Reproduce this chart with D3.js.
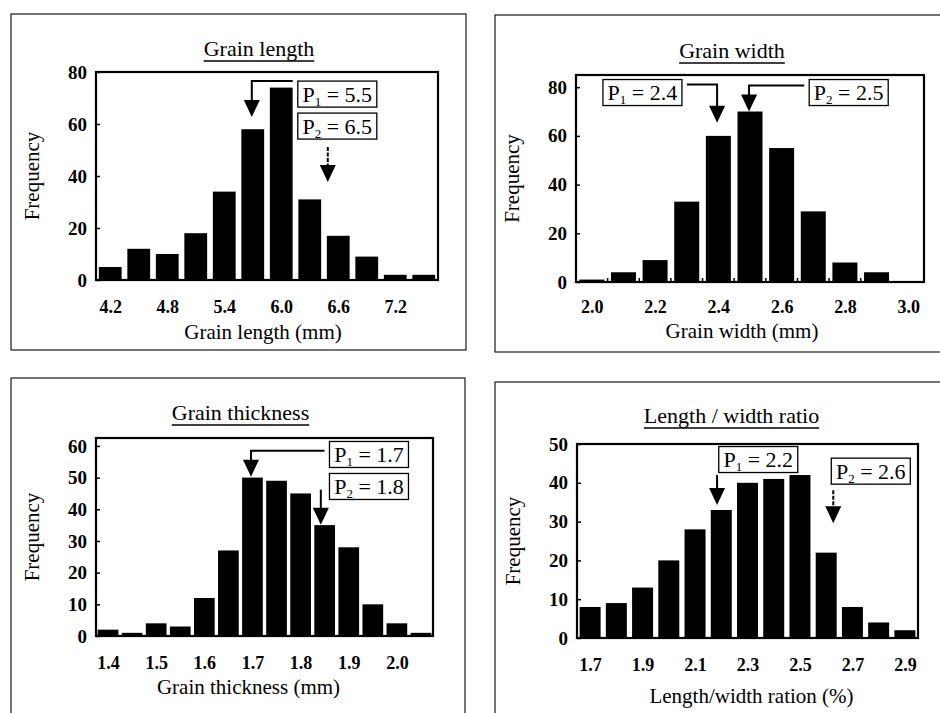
<!DOCTYPE html>
<html>
<head>
<meta charset="utf-8">
<script src="https://cdn.jsdelivr.net/npm/d3@7"></script>
<style>
  html, body { margin: 0; padding: 0; background: #fff; }
  svg { display: block; }
  svg text { font-family: "Liberation Serif", "Times New Roman", serif; }
</style>
</head>
<body>
<svg id="chart" width="940" height="713"></svg>
<script>
// ---------------- DATA ----------------
const lengthBins   = [4.2, 4.5, 4.8, 5.1, 5.4, 5.7, 6.0, 6.3, 6.6, 6.9, 7.2, 7.5];
const lengthFreq   = [5, 12, 10, 18, 34, 58, 74, 31, 17, 9, 2, 2];
const lengthXTicks = [4.2, 4.8, 5.4, 6.0, 6.6, 7.2];
const lengthYTicks = [0, 20, 40, 60, 80];
const lengthNotes  = [
  { sub: "1", val: "5.5", bx: 6.59, by: 71.5, kind: "elbow", ax: 5.69, ay: 76.5, tip: 62.7, dashed: false },
  { sub: "2", val: "6.5", bx: 6.59, by: 59.2, kind: "drop",  ax: 6.49, ay: 51.2, tip: 37.7, dashed: true }
];

const widthBins   = [2.0, 2.1, 2.2, 2.3, 2.4, 2.5, 2.6, 2.7, 2.8, 2.9];
const widthFreq   = [1, 4, 9, 33, 60, 70, 55, 29, 8, 4];
const widthXTicks = [2.0, 2.2, 2.4, 2.6, 2.8, 3.0];
const widthYTicks = [0, 20, 40, 60, 80];
const widthNotes  = [
  { sub: "1", val: "2.4", bx: 2.160, by: 77.8, kind: "elbow", ax: 2.396, ay: 81.1, tip: 65.4, dashed: false },
  { sub: "2", val: "2.5", bx: 2.812, by: 77.8, kind: "elbow", ax: 2.497, ay: 80.7, tip: 70.0, dashed: false }
];

const thickBins   = [1.40, 1.45, 1.50, 1.55, 1.60, 1.65, 1.70, 1.75, 1.80, 1.85, 1.90, 1.95, 2.00, 2.05];
const thickFreq   = [2, 1, 4, 3, 12, 27, 50, 49, 45, 35, 28, 10, 4, 1];
const thickXTicks = [1.4, 1.5, 1.6, 1.7, 1.8, 1.9, 2.0];
const thickYTicks = [0, 10, 20, 30, 40, 50, 60];
const thickNotes  = [
  { sub: "1", val: "1.7", bx: 1.942, by: 57.3, kind: "elbow", ax: 1.697, ay: 58.5, tip: 50.3, dashed: false },
  { sub: "2", val: "1.8", bx: 1.942, by: 47.2, kind: "drop",  ax: 1.842, ay: 46.2, tip: 35.1, dashed: false }
];

const ratioBins   = [1.7, 1.8, 1.9, 2.0, 2.1, 2.2, 2.3, 2.4, 2.5, 2.6, 2.7, 2.8, 2.9];
const ratioFreq   = [8, 9, 13, 20, 28, 33, 40, 41, 42, 22, 8, 4, 2];
const ratioXTicks = [1.7, 1.9, 2.1, 2.3, 2.5, 2.7, 2.9];
const ratioYTicks = [0, 10, 20, 30, 40, 50];
const ratioNotes  = [
  { sub: "1", val: "2.2", bx: 2.341, by: 46.0, kind: "drop", ax: 2.184, ay: 42.0, tip: 34.3, dashed: false },
  { sub: "2", val: "2.6", bx: 2.770, by: 43.0, kind: "drop", ax: 2.627, ay: 38.1, tip: 29.6, dashed: true }
];

const panelTitles = ["Grain length", "Grain width", "Grain thickness", "Length / width ratio"];
const axisTitles  = ["Grain length (mm)", "Grain width (mm)", "Grain thickness (mm)", "Length/width ration (%)"];
const yTitle = "Frequency";

// ---------------- LAYOUT ----------------
const panels = [
  { bins: lengthBins, freq: lengthFreq, xt: lengthXTicks, yt: lengthYTicks, notes: lengthNotes,
    title: panelTitles[0], xTitle: axisTitles[0], yMax: 80, binW: 0.3, barFrac: 0.8,
    outer: [11, 14, 466, 350], plot: [96, 72, 438, 280], titleDx: -8, titleDy: -16, xTitleDx: -4, xTitleDy: 59, xLabDy: 33, xMinorTicks: false },
  { bins: widthBins, freq: widthFreq, xt: widthXTicks, yt: widthYTicks, notes: widthNotes,
    title: panelTitles[1], xTitle: axisTitles[1], yMax: 85, binW: 0.1, barFrac: 0.79,
    outer: [495, 15, 948, 352], plot: [576, 75, 924, 282], titleDx: -18, titleDy: -17, xTitleDx: -8, xTitleDy: 56, xLabDy: 31, xMinorTicks: true },
  { bins: thickBins, freq: thickFreq, xt: thickXTicks, yt: thickYTicks, notes: thickNotes,
    title: panelTitles[2], xTitle: axisTitles[2], yMax: 62.5, binW: 0.05, barFrac: 0.86,
    outer: [11, 378, 465, 720], plot: [96, 438, 433, 636], titleDx: -24, titleDy: -18, xTitleDx: -16, xTitleDy: 58, xLabDy: 33, xMinorTicks: false },
  { bins: ratioBins, freq: ratioFreq, xt: ratioXTicks, yt: ratioYTicks, notes: ratioNotes,
    title: panelTitles[3], xTitle: axisTitles[3], yMax: 50, binW: 0.1, barFrac: 0.8,
    outer: [495, 382, 948, 720], plot: [577, 444, 918, 638], titleDx: -16, titleDy: -21, xTitleDx: 4, xTitleDy: 65, xLabDy: 33, xMinorTicks: false }
];

const svg = d3.select("#chart");
const fmt = d3.format(".1f");
const SERIF = "'Liberation Serif', 'Times New Roman', serif";

panels.forEach(p => {
  const [ox0, oy0, ox1, oy1] = p.outer;
  const [px0, py0, px1, py1] = p.plot;
  const g = svg.append("g");

  // outer panel frame
  g.append("rect").attr("x", ox0).attr("y", oy0).attr("width", ox1 - ox0).attr("height", oy1 - oy0)
    .attr("fill", "none").attr("stroke", "#1a1a1a").attr("stroke-width", 1.2);

  const lastX = Math.max(p.bins[p.bins.length - 1], p.xt[p.xt.length - 1]);
  const x = d3.scaleLinear().domain([p.bins[0] - p.binW / 2, lastX + p.binW / 2]).range([px0, px1]);
  const y = d3.scaleLinear().domain([0, p.yMax]).range([py1, py0]);
  const stepPx = x(p.bins[0] + p.binW) - x(p.bins[0]);
  const bw = stepPx * p.barFrac;

  // bars
  g.append("g").selectAll("rect").data(p.bins).join("rect")
    .attr("x", d => x(d) - bw / 2)
    .attr("y", (d, i) => y(p.freq[i]))
    .attr("width", bw)
    .attr("height", (d, i) => y(0) - y(p.freq[i]))
    .attr("fill", "#000");

  // y axis (inward ticks)
  const yAxis = d3.axisLeft(y).tickValues(p.yt).tickSize(-4).tickPadding(9).tickFormat(d3.format("d"));
  const ya = g.append("g").attr("transform", `translate(${px0},0)`).call(yAxis)
    .attr("font-family", null).attr("font-size", null);
  ya.select(".domain").remove();
  ya.selectAll("line").attr("stroke", "#000").attr("stroke-width", 1.5);
  ya.selectAll("text").style("font-family", SERIF).style("font-size", "19px")
    .style("font-weight", "bold").attr("fill", "#000");

  // x axis labels
  const xAxis = d3.axisBottom(x).tickValues(p.xt).tickSize(0).tickFormat(fmt);
  const xa = g.append("g").attr("transform", `translate(0,${py1})`).call(xAxis)
    .attr("font-family", null).attr("font-size", null);
  xa.select(".domain").remove();
  xa.selectAll("text").attr("y", p.xLabDy).attr("dy", 0)
    .style("font-family", SERIF).style("font-size", "18px")
    .style("font-weight", "bold").attr("fill", "#000");

  if (p.xMinorTicks) {
    const edges = p.bins.slice(1).map(b => b - p.binW / 2);
    g.append("g").selectAll("line").data(edges).join("line")
      .attr("x1", d => x(d)).attr("x2", d => x(d))
      .attr("y1", py1).attr("y2", py1 - 4)
      .attr("stroke", "#000").attr("stroke-width", 1.5);
  }

  // plot frame
  g.append("rect").attr("x", px0).attr("y", py0).attr("width", px1 - px0).attr("height", py1 - py0)
    .attr("fill", "none").attr("stroke", "#000").attr("stroke-width", 2.2);

  // panel title (underlined)
  const tcx = (px0 + px1) / 2 + p.titleDx;
  const t = g.append("text").attr("x", tcx).attr("y", py0 + p.titleDy)
    .attr("text-anchor", "middle").style("font-size", "22px").attr("fill", "#000").text(p.title);
  const tb = t.node().getBBox();
  g.append("line").attr("x1", tb.x).attr("x2", tb.x + tb.width)
    .attr("y1", py0 + p.titleDy + 5).attr("y2", py0 + p.titleDy + 5)
    .attr("stroke", "#000").attr("stroke-width", 1.4);

  // x axis title
  g.append("text").attr("x", (px0 + px1) / 2 + p.xTitleDx).attr("y", py1 + p.xTitleDy)
    .attr("text-anchor", "middle").style("font-size", "21px").attr("fill", "#000").text(p.xTitle);

  // y axis title
  g.append("text").attr("transform", `translate(${px0 - 57},${(py0 + py1) / 2}) rotate(-90)`)
    .attr("text-anchor", "middle").style("font-size", "21px").attr("fill", "#000").text(yTitle);

  // annotations
  const boxW = 79, boxH = 26, gap = 5, headW = 16, headH = 17;
  p.notes.forEach(n => {
    const cx = x(n.bx), cy = y(n.by);
    g.append("rect").attr("x", cx - boxW / 2).attr("y", cy - boxH / 2).attr("width", boxW).attr("height", boxH)
      .attr("fill", "#fff").attr("stroke", "#000").attr("stroke-width", 1.3);
    const tx = g.append("text").attr("x", cx).attr("y", cy + 7.5).attr("text-anchor", "middle")
      .style("font-size", "22px").attr("fill", "#000");
    tx.append("tspan").text("P");
    tx.append("tspan").style("font-size", "13px").attr("dy", 4).text(n.sub);
    tx.append("tspan").attr("dy", -4).text(" = " + n.val);

    const axp = x(n.ax), ayp = y(n.ay), tipp = y(n.tip);
    let pathD;
    if (n.kind === "elbow") {
      const sx = axp < cx ? cx - boxW / 2 - gap : cx + boxW / 2 + gap;
      pathD = `M${sx},${ayp}H${axp}V${tipp - headH + 1}`;
    } else {
      pathD = `M${axp},${ayp}V${tipp - headH + 1}`;
    }
    g.append("path").attr("d", pathD).attr("fill", "none").attr("stroke", "#000")
      .attr("stroke-width", 2).attr("stroke-dasharray", n.dashed ? "4,1.5" : null);
    g.append("path")
      .attr("d", `M${axp - headW / 2},${tipp - headH}L${axp + headW / 2},${tipp - headH}L${axp},${tipp}Z`)
      .attr("fill", "#000");
  });
});
</script>
</body>
</html>
